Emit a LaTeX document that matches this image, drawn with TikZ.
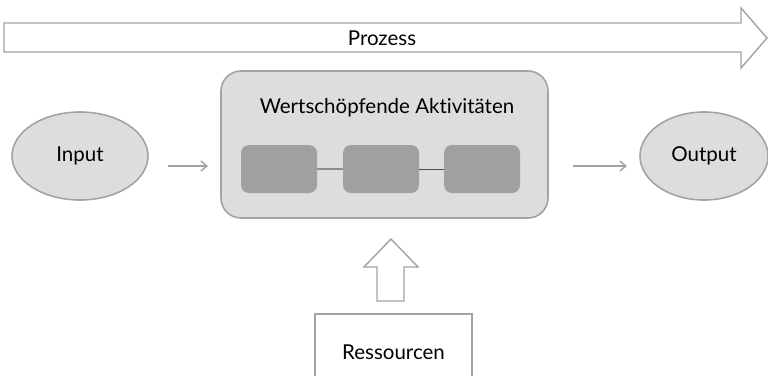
\documentclass[tikz,border=0pt]{standalone}
\usepackage{fontspec}
\setmainfont{Lato}[Ligatures={NoCommon}]
\usetikzlibrary{arrows.meta,shapes.geometric}
\definecolor{lightfill}{HTML}{DDDDDD}
\definecolor{edgegray}{HTML}{A3A3A3}
\definecolor{stepgray}{HTML}{A0A0A0}
\definecolor{linkgray}{HTML}{8C8C8C}
\begin{document}
\begin{tikzpicture}[x=1pt,y=-1pt,
  lbl/.style={font=\fontsize{20.5}{24}\selectfont, text=black},
  oval/.style={draw=edgegray, line width=1.6pt, fill=lightfill, ellipse, minimum height=88pt, inner sep=0pt},
  stepbox/.style={fill=stepgray, rounded corners=8pt, minimum width=76pt, minimum height=48pt, inner sep=0pt},
  flow/.style={draw=edgegray, line width=1.4pt, -{Straight Barb[length=6pt,width=10pt]}}]
\useasboundingbox (0,0) rectangle (768,375);

% process arrow across the top
\draw[edgegray, line width=1.4pt, fill=white]
  (4,23) -- (741,23) -- (741,8) -- (767,38) -- (741,68) -- (741,52) -- (4,52) -- cycle;
\node[lbl] (proz) at (382,38) {Prozess};

% value-adding activities
\draw[edgegray, line width=1.6pt, fill=lightfill, rounded corners=20pt]
  (221,71) rectangle (548,218);
\node[lbl] (title) at (387,108) {Wertschöpfende Aktivitäten};
\node[stepbox] (s1) at (279,169) {};
\node[stepbox] (s2) at (381,169) {};
\node[stepbox] (s3) at (482,169) {};
\draw[linkgray, line width=2.4pt] (s1.east) -- (s2.west);
\draw[gray!60!black, line width=0.8pt] (s2.east) -- (s3.west);

% input and output
\node[oval, minimum width=136pt] (in) at (80,156) {};
\node[lbl] at (in.center) {Input};
\node[oval, minimum width=128pt] (out) at (704,156) {};
\node[lbl] at (out.center) {Output};
\coordinate (a1s) at (168,166);
\coordinate (a1e) at (208,166);
\coordinate (a2s) at (573,166);
\coordinate (a2e) at (627,166);
\draw[flow] (a1s) -- (a1e);
\draw[flow] (a2s) -- (a2e);

% resources feeding in from below
\draw[edgegray, line width=1.4pt, fill=white]
  (377,301) -- (377,267) -- (364,267) -- (391,239) -- (418,267) -- (404,267) -- (404,301) -- cycle;
\draw[edgegray, line width=1.4pt, fill=white] (315,314) rectangle (472,378);
\node[lbl] (res) at (393.5,352) {Ressourcen};
\end{tikzpicture}
\end{document}
